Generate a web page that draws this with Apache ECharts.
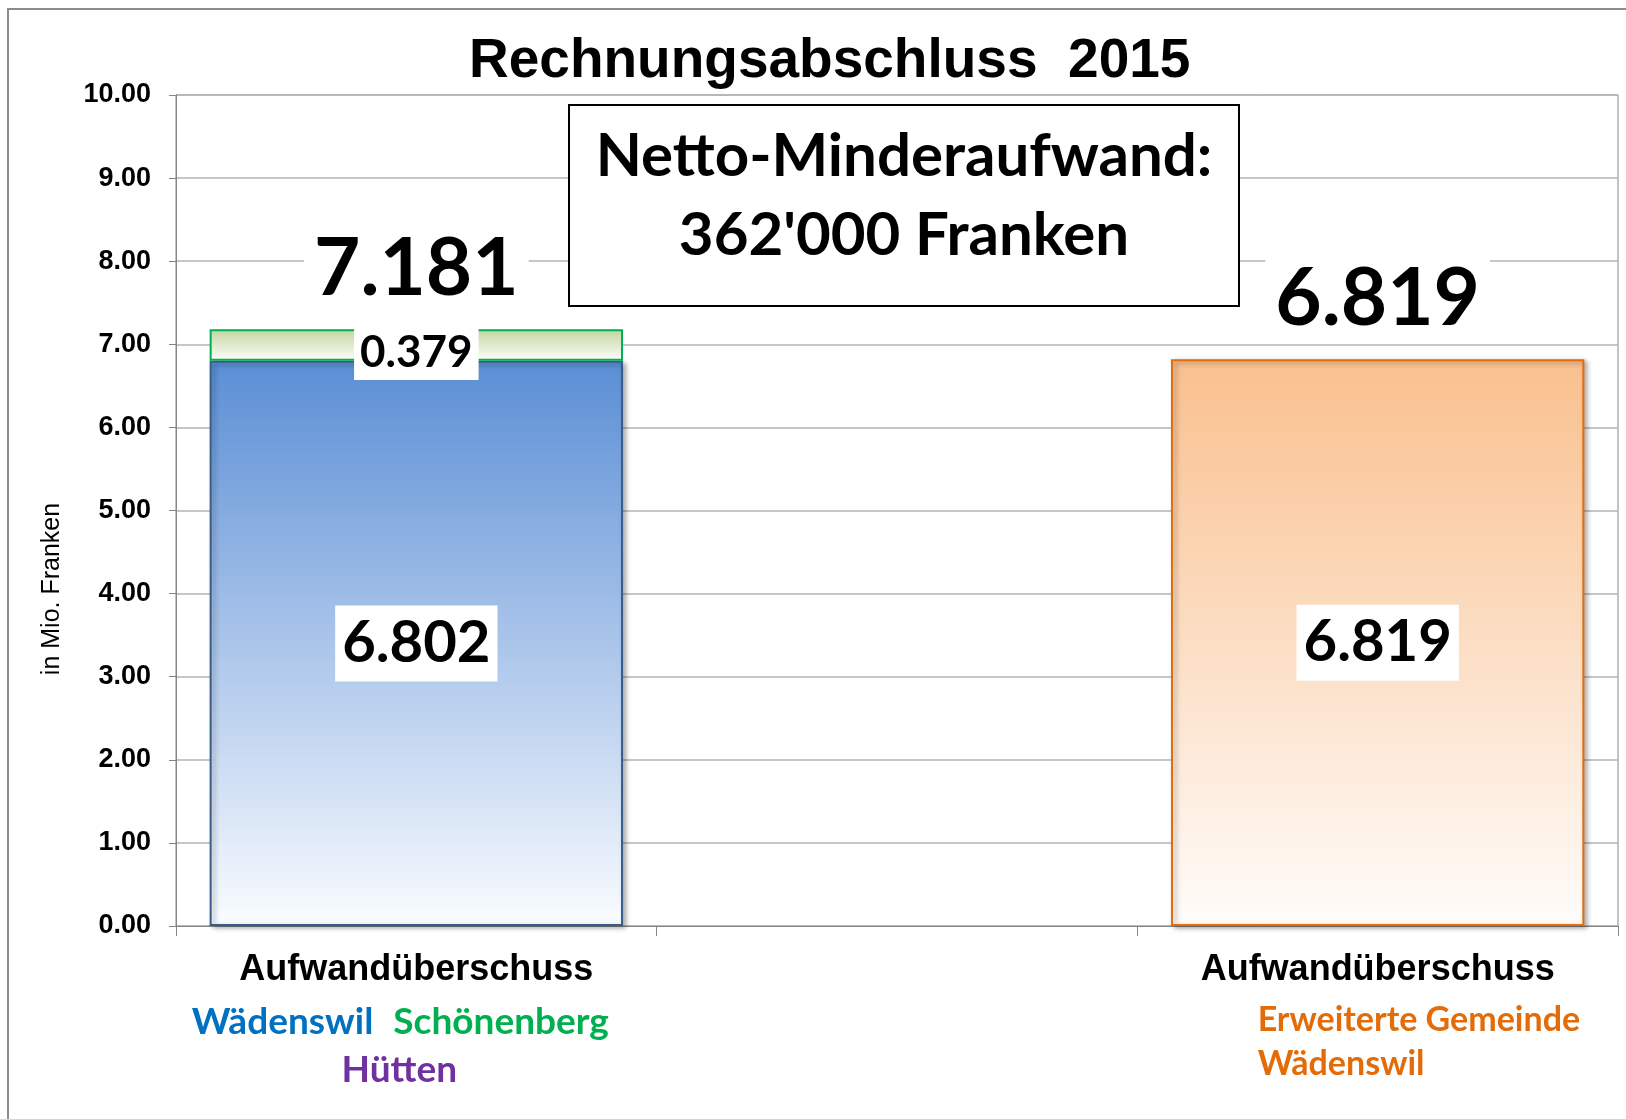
<!DOCTYPE html>
<html>
<head>
<meta charset="utf-8">
<title>Rechnungsabschluss 2015</title>
<script src="https://cdn.jsdelivr.net/npm/echarts@6/dist/echarts.min.js"></script>
<style>
  html, body { margin: 0; padding: 0; background: #fff; }
  #chart { width: 1626px; height: 1119px; }
</style>
</head>
<body>
<div id="chart"></div>
<script>
// data (Mio. Franken)
const categories = ['Aufwandüberschuss', '', 'Aufwandüberschuss'];
const waedenswil = [6.802, null, null];
const schoenenbergHuetten = [0.379, null, null];
const erweiterteGemeinde = [null, null, 6.819];
const yMin = 0;
const yMax = 10;
const yStep = 1;

const totals = categories.map((c, i) => {
  const parts = [waedenswil[i], schoenenbergHuetten[i], erweiterteGemeinde[i]].filter((v) => v != null);
  return parts.length ? parts.reduce((a, b) => a + b, 0) : null;
});

const ARIAL = '"Liberation Sans", Arial, sans-serif';
const CALIBRI = 'Lato, "Open Sans", sans-serif';

const grad = (top, bottom) => new echarts.graphic.LinearGradient(0, 0, 0, 1, [
  { offset: 0, color: top },
  { offset: 1, color: bottom },
]);

const chart = echarts.init(document.getElementById('chart'));

const valueLabel = (size, pad) => ({
  show: true,
  position: 'inside',
  fontFamily: CALIBRI,
  fontWeight: 'bold',
  fontSize: size,
  color: '#000',
  backgroundColor: '#fff',
  padding: pad,
  formatter: (p) => p.value.toFixed(3),
});

chart.setOption({
  animation: false,
  title: {
    text: 'Rechnungsabschluss  2015',
    left: 469,
    top: 29,
    padding: [5, 0],
    textStyle: { fontFamily: ARIAL, fontWeight: 'bold', fontSize: 55, color: '#000' },
  },
  grid: {
    left: 176, right: 8, top: 95, bottom: 193,
    show: true, borderColor: '#868686', borderWidth: 1, backgroundColor: 'transparent',
  },
  xAxis: {
    type: 'category',
    data: categories,
    axisLine: { lineStyle: { color: '#868686', width: 1 } },
    axisTick: { show: true, length: 10, lineStyle: { color: '#868686' } },
    axisLabel: {
      margin: 16,
      interval: 0,
      verticalAlign: 'top',
      formatter: (v, i) => {
        if (i === 0) return '{b|' + v + '}\n{w|Wädenswil}{g|Schönenberg}\n{p|Hütten}';
        if (i === 2) return '{b|' + v + '}\n{o|Erweiterte Gemeinde}\n{o|Wädenswil}';
        return '';
      },
      rich: {
        b: { fontFamily: ARIAL, fontWeight: 'bold', fontSize: 36, color: '#000', lineHeight: 56 },
        w: { fontFamily: CALIBRI, fontWeight: 'bold', fontSize: 37, color: '#0070C0', lineHeight: 48 },
        g: { fontFamily: CALIBRI, fontWeight: 'bold', fontSize: 37, color: '#00B050', lineHeight: 48, padding: [0, 32, 0, 20] },
        p: { fontFamily: CALIBRI, fontWeight: 'bold', fontSize: 37, color: '#7030A0', lineHeight: 48, padding: [0, 34, 0, 0] },
        o: {
          fontFamily: CALIBRI, fontWeight: 'bold', fontSize: 34, color: '#E36C09', lineHeight: 44,
          width: 330, align: 'left', padding: [0, 0, 0, 90],
        },
      },
    },
  },
  yAxis: {
    type: 'value',
    min: yMin,
    max: yMax,
    interval: yStep,
    axisLine: { show: true, lineStyle: { color: '#868686', width: 1 } },
    axisTick: { show: true, length: 7, lineStyle: { color: '#868686' } },
    splitLine: { lineStyle: { color: '#B4B4B4', width: 1.5 } },
    axisLabel: {
      margin: 25,
      fontFamily: ARIAL,
      fontWeight: 'bold',
      fontSize: 27,
      color: '#000',
      formatter: (v) => v.toFixed(2),
    },
  },
  series: [
    {
      name: 'Wädenswil',
      type: 'bar',
      stack: 'total',
      barWidth: '86%',
      data: waedenswil,
      itemStyle: {
        color: grad('#5A8ED5', '#FAFCFF'),
        borderColor: '#385D8A',
        borderWidth: 2,
        shadowColor: 'rgba(0,0,0,0.35)', shadowBlur: 5, shadowOffsetX: 3, shadowOffsetY: 2,
      },
      label: valueLabel(58, [9, 7]),
    },
    {
      name: 'Schönenberg / Hütten',
      type: 'bar',
      stack: 'total',
      barWidth: '86%',
      data: schoenenbergHuetten,
      itemStyle: {
        color: grad('#C3D5A0', '#FDFEFA'),
        borderColor: '#00B050',
        borderWidth: 2,
      },
      label: Object.assign(valueLabel(44, [2, 6, 8, 6]), { offset: [0, 8] }),
    },
    {
      name: 'Erweiterte Gemeinde Wädenswil',
      type: 'bar',
      stack: 'total',
      barWidth: '86%',
      data: erweiterteGemeinde,
      itemStyle: {
        color: grad('#F9C08E', '#FFFCFA'),
        borderColor: '#E46C0A',
        borderWidth: 2,
        shadowColor: 'rgba(0,0,0,0.35)', shadowBlur: 5, shadowOffsetX: 3, shadowOffsetY: 2,
      },
      label: valueLabel(58, [9, 7]),
    },
    {
      // zero-height cap carrying the total label above each bar
      name: 'Total',
      type: 'bar',
      stack: 'total',
      barWidth: '86%',
      data: totals.map((t) => (t == null ? null : 0)),
      itemStyle: { color: 'transparent', borderWidth: 0 },
      label: {
        show: true,
        position: 'top',
        distance: 20,
        fontFamily: CALIBRI,
        fontWeight: 'bold',
        fontSize: 80,
        color: '#000',
        backgroundColor: '#fff',
        padding: [0, 10],
        formatter: (p) => totals[p.dataIndex].toFixed(3),
      },
    },
  ],
  graphic: [
    {
      type: 'rect',
      silent: true,
      shape: { x: 8, y: 9, width: 1700, height: 1200 },
      style: { fill: 'none', stroke: '#8C8C8C', lineWidth: 2 },
      z: 100,
    },
    {
      type: 'rect',
      shape: { x: 569, y: 105, width: 670, height: 201 },
      style: { fill: '#fff', stroke: '#000', lineWidth: 2 },
      z: 50,
    },
    {
      type: 'text',
      x: 904,
      y: 196,
      z: 51,
      style: {
        text: "Netto-Minderaufwand:\n362'000 Franken",
        fontFamily: CALIBRI,
        fontWeight: 'bold',
        fontSize: 60,
        lineHeight: 79,
        fill: '#000',
        align: 'center',
        verticalAlign: 'middle',
      },
    },
    {
      type: 'text',
      x: 52,
      y: 589,
      rotation: Math.PI / 2,
      style: {
        text: 'in Mio. Franken',
        fontFamily: ARIAL,
        fontSize: 25,
        fill: '#000',
        align: 'center',
        verticalAlign: 'middle',
      },
    },
  ],
});
</script>
</body>
</html>
